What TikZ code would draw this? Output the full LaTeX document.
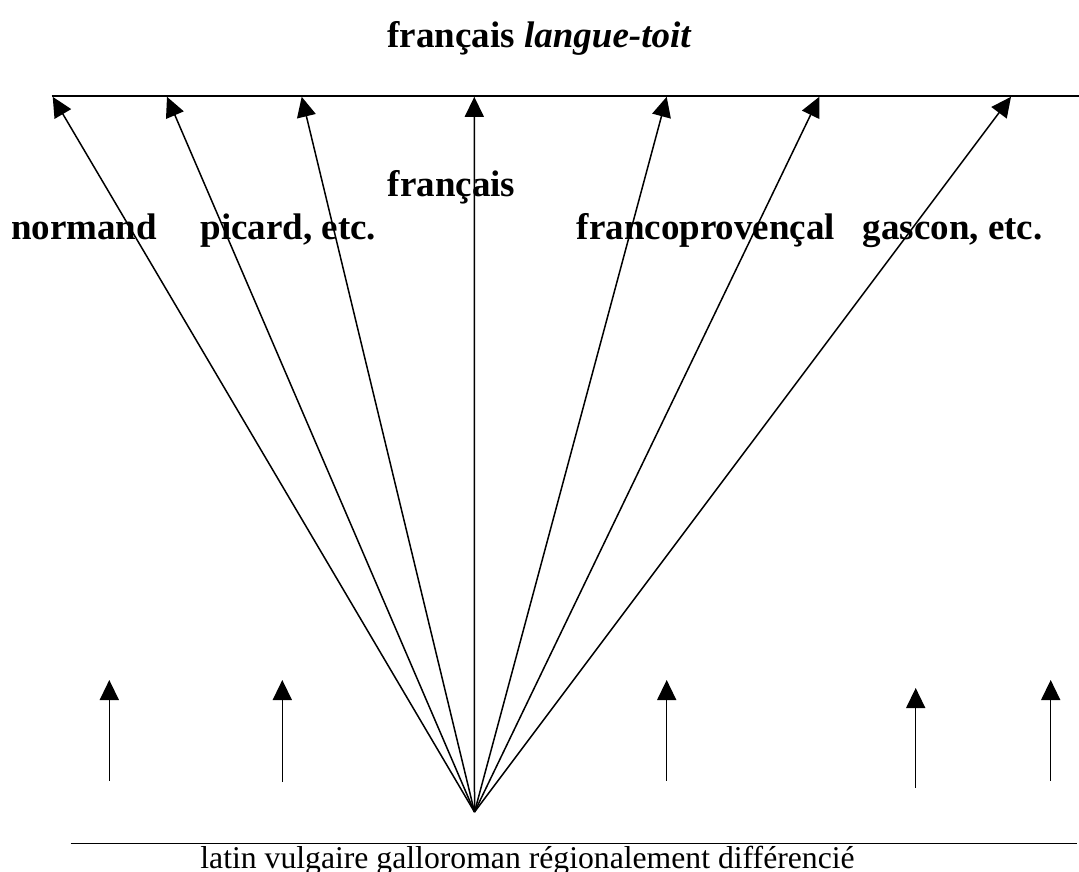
\documentclass[tikz,border=0pt]{standalone}
\usepackage{fontspec}
\setmainfont{Liberation Serif}
\usetikzlibrary{arrows.meta}
\begin{document}
\begin{tikzpicture}[x=1pt,y=-1pt,
  line width=1.6pt,
  arr/.style={-{Triangle[length=20pt,width=19pt]}, line width=1.5pt},
  lab/.style={inner sep=0pt, anchor=base west, font=\fontsize{37pt}{44pt}\selectfont\bfseries},
  ttl/.style={inner sep=0pt, anchor=base, font=\fontsize{37pt}{44pt}\selectfont\bfseries},
  base/.style={inner sep=0pt, anchor=base, font=\fontsize{31.7pt}{38pt}\selectfont}]
\useasboundingbox (0,0) rectangle (1079,872);
% title
\node[ttl] (title) at (539.5,48) {français \textit{langue-toit}};
% top and bottom lines
\coordinate (topL) at (51.7,96);
\coordinate (topR) at (1079,96);
\draw (topL) -- (topR);
\coordinate (botL) at (70.6,843.5);
\coordinate (botR) at (1077,843.5);
\draw (botL) -- (botR);
\node[base] (latin) at (527.5,868) {latin vulgaire galloroman régionalement différencié};
% fan
\coordinate (apex) at (474.5,812);
\foreach \n/\x in {t1/52.7,t2/167,t3/301.7,t4/474.3,t5/666.7,t6/819.3,t7/1011}{
  \coordinate (\n) at (\x,96.8);
  \draw[arr] (apex) -- (\n);
}
% vertical arrows
\foreach \n/\x/\yb/\yt in {v1/109.3/780.7/680,v2/282.3/782/680,v3/666.7/780.7/680,v4/915.7/787.7/688,v5/1050.7/780.7/680}{
  \coordinate (\n b) at (\x,\yb);
  \coordinate (\n t) at (\x,\yt);
  \draw[arr] (\n b) -- (\n t);
}
% labels
\node[lab] (normand) at (10.3,239.3) {normand};
\node[lab] (picard) at (199.7,239.3) {picard, etc.};
\node[lab] (francais) at (387,196) {français};
\node[lab] (francoprov) at (576,239.3) {francoprovençal};
\node[lab] (gascon) at (862,239.3) {gascon, etc.};
\end{tikzpicture}
\end{document}
